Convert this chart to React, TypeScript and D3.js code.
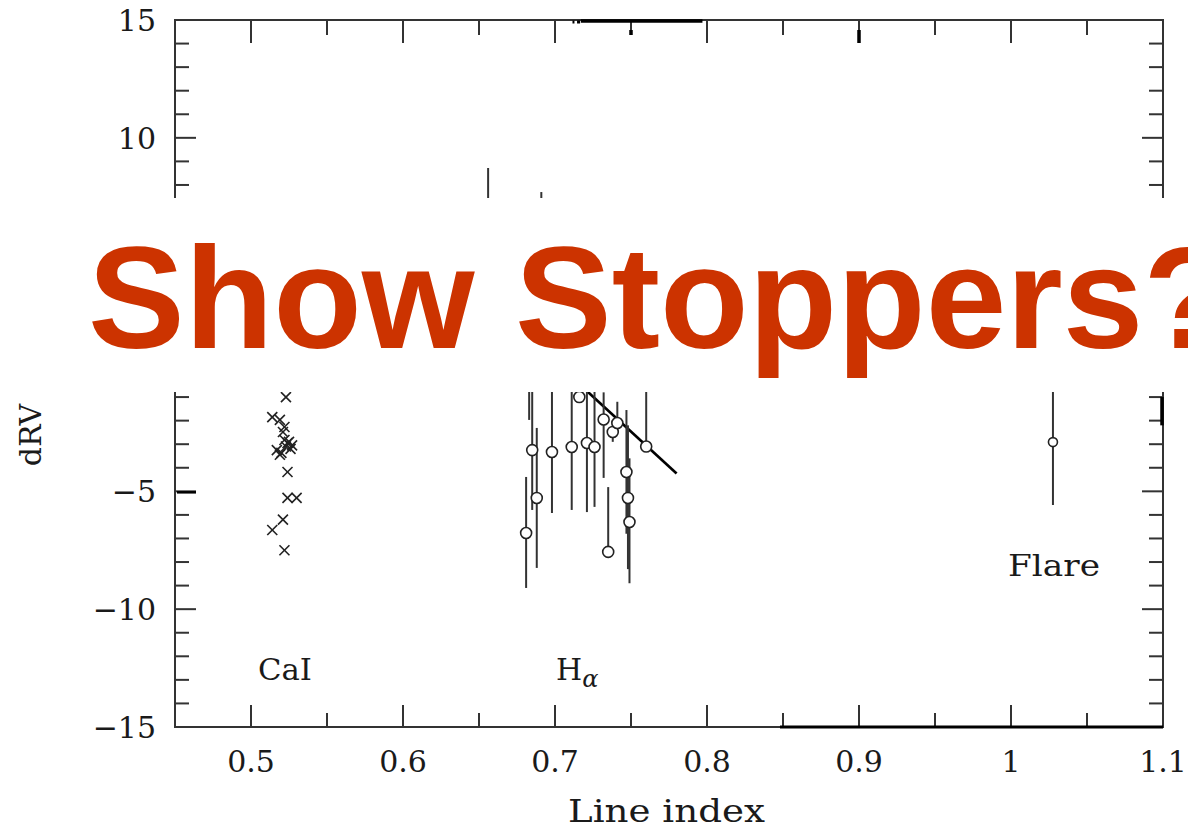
import React from "react";
import * as d3 from "d3";

// ---------- data ----------
const xDomain = [0.45, 1.1];
const yDomain = [-15, 15];
const xTickValues = [0.5, 0.6, 0.7, 0.8, 0.9, 1.0, 1.1];
const xTickLabels = ["0.5", "0.6", "0.7", "0.8", "0.9", "1", "1.1"];
const yTickValues = [15, 10, 5, 0, -5, -10, -15];
// labels for 5 and 0 are hidden under the title band in the reference
const yTickLabels = ["15", "10", "", "", "\u22125", "\u221210", "\u221215"];

// Ca I points (crosses)
const caX = [0.523, 0.514, 0.519, 0.522, 0.521, 0.522, 0.524, 0.523, 0.517, 0.520, 0.527, 0.525, 0.526, 0.519, 0.524, 0.524, 0.530, 0.521, 0.514, 0.522];
const caY = [-1.0, -1.85, -1.97, -2.27, -2.48, -2.82, -2.95, -3.1, -3.25, -3.37, -3.05, -2.9, -3.2, -3.45, -4.18, -5.28, -5.28, -6.2, -6.64, -7.5];

// H-alpha points (open circles) with error-bar ends
const haX = [0.681, 0.685, 0.688, 0.683, 0.698, 0.711, 0.716, 0.721, 0.726, 0.732, 0.738, 0.741, 0.735, 0.747, 0.748, 0.749, 0.760, 0.656, 0.691];
const haY = [-6.77, -3.25, -5.28, 0.3, -3.33, -3.12, -1.0, -2.95, -3.12, -1.95, -2.48, -2.1, -7.57, -4.18, -5.28, -6.3, -3.1, 4.5, 3.0];
const haHi = [-4.39, -0.7, -2.31, 2.0, -0.78, -0.78, 1.5, -0.78, -0.78, -0.8, -2.0, -1.2, -4.82, -1.55, -2.2, -3.6, -0.78, 8.72, 7.7];
const haLo = [-9.10, -5.79, -8.25, -1.97, -5.92, -5.79, -1.0, -5.88, -5.66, -4.43, -2.9, -2.5, -7.57, -6.8, -8.3, -8.9, -3.1, 0.5, -0.5];

// fitted line through H-alpha points
const fitX = [0.70, 0.78];
const fitY = [0.5, -4.24];

// Flare point
const flareX = [1.0276];
const flareY = [-2.91];
const flareHi = [-0.24];
const flareLo = [-5.58];

const W = 1188;
const H = 826;
const M = { left: 175, right: 1163, top: 20, bottom: 727 };

export default function App() {
  const x = d3.scaleLinear().domain(xDomain).range([M.left, M.right]);
  const y = d3.scaleLinear().domain(yDomain).range([M.bottom, M.top]);

  const xMinor = d3.range(0.45, 1.1001, 0.05).filter(
    (v) => Math.abs(v * 10 - Math.round(v * 10)) > 0.01
  );
  const yMinor = d3.range(-15, 15.001, 1).filter((v) => Math.abs(v % 5) > 0.01);

  const axisColor = "#333";
  const textColor = "#1a1a1a";
  const serif = "'DejaVu Serif', serif";
  const line = d3
    .line<number>()
    .x((_, i) => x(fitX[i]))
    .y((_, i) => y(fitY[i]));

  const cs = 5; // cross half-size

  return (
    <svg
      width={W}
      height={H}
      viewBox={`0 0 ${W} ${H}`}
      style={{ position: "absolute", left: 0, top: 0, background: "#fff" }}
    >
      <rect x={0} y={0} width={W} height={H} fill="#fff" />

      {/* frame */}
      <rect
        x={M.left}
        y={M.top}
        width={M.right - M.left}
        height={M.bottom - M.top}
        fill="none"
        stroke={axisColor}
        strokeWidth={2}
      />

      {/* x ticks, major */}
      {xTickValues.map((v, i) => (
        <g key={"xt" + i}>
          <line x1={x(v)} x2={x(v)} y1={M.bottom} y2={M.bottom - 22} stroke={axisColor} strokeWidth={2} />
          <line x1={x(v)} x2={x(v)} y1={M.top} y2={M.top + 23} stroke={axisColor} strokeWidth={2} />
          <text
            x={x(v)}
            y={772}
            textAnchor="middle"
            fontFamily={serif}
            fontSize={30}
            fill={textColor}
          >
            {xTickLabels[i]}
          </text>
        </g>
      ))}
      {xMinor.map((v, i) => (
        <g key={"xm" + i}>
          <line x1={x(v)} x2={x(v)} y1={M.bottom} y2={M.bottom - 14} stroke={axisColor} strokeWidth={2} />
          <line x1={x(v)} x2={x(v)} y1={M.top} y2={M.top + 15} stroke={axisColor} strokeWidth={2} />
        </g>
      ))}

      {/* y ticks */}
      {yTickValues.map((v, i) => (
        <g key={"yt" + i}>
          <line x1={M.left} x2={M.left + 21} y1={y(v)} y2={y(v)} stroke={axisColor} strokeWidth={2} />
          <line x1={M.right} x2={M.right - 21} y1={y(v)} y2={y(v)} stroke={axisColor} strokeWidth={2} />
          {yTickLabels[i] ? (
            <text
              x={156}
              y={y(v) + 11}
              textAnchor="end"
              fontFamily={serif}
              fontSize={30}
              fill={textColor}
            >
              {yTickLabels[i]}
            </text>
          ) : null}
        </g>
      ))}
      {yMinor.map((v, i) => (
        <g key={"ym" + i}>
          <line x1={M.left} x2={M.left + 14} y1={y(v)} y2={y(v)} stroke={axisColor} strokeWidth={2} />
          <line x1={M.right} x2={M.right - 14} y1={y(v)} y2={y(v)} stroke={axisColor} strokeWidth={2} />
        </g>
      ))}

      {/* scan artifacts along the frame */}
      <line x1={x(0.717)} x2={x(0.797)} y1={M.top + 1} y2={M.top + 1} stroke="#000" strokeWidth={3.5} />
      <line x1={x(0.7115)} x2={x(0.7128)} y1={M.top + 2} y2={M.top + 2} stroke="#000" strokeWidth={3} />
      <line x1={x(0.7145)} x2={x(0.7165)} y1={M.top + 2} y2={M.top + 2} stroke="#000" strokeWidth={3} />
      <line x1={x(0.75)} x2={x(0.75)} y1={M.top + 10} y2={M.top + 15} stroke="#000" strokeWidth={3.5} />
      <line x1={x(0.9)} x2={x(0.9)} y1={M.top + 10} y2={M.top + 23} stroke="#000" strokeWidth={3.5} />
      <line x1={x(0.848)} x2={M.right} y1={M.bottom} y2={M.bottom} stroke="#000" strokeWidth={3} />
      <line x1={M.right - 1} x2={M.right - 1} y1={y(-1.0)} y2={y(-2.2)} stroke="#000" strokeWidth={3.5} />
      <line x1={M.left + 2} x2={M.left + 21} y1={y(-5) + 1} y2={y(-5) + 1} stroke="#000" strokeWidth={2.5} />

      {/* fitted line */}
      <path d={line(fitX) || ""} fill="none" stroke="#000" strokeWidth={2.6} />

      {/* H-alpha error bars and circles */}
      {haX.map((v, i) => (
        <line
          key={"hb" + i}
          x1={x(v)}
          x2={x(v)}
          y1={y(haHi[i])}
          y2={y(haLo[i])}
          stroke={axisColor}
          strokeWidth={2}
        />
      ))}
      {haX.map((v, i) => (
        <circle
          key={"hc" + i}
          cx={x(v)}
          cy={y(haY[i])}
          r={5.5}
          fill="#fff"
          stroke="#222"
          strokeWidth={1.6}
        />
      ))}

      {/* Ca I crosses */}
      {caX.map((v, i) => (
        <g key={"ca" + i} stroke="#222" strokeWidth={1.6}>
          <line x1={x(v) - cs} x2={x(v) + cs} y1={y(caY[i]) - cs} y2={y(caY[i]) + cs} />
          <line x1={x(v) - cs} x2={x(v) + cs} y1={y(caY[i]) + cs} y2={y(caY[i]) - cs} />
        </g>
      ))}

      {/* Flare */}
      {flareX.map((v, i) => (
        <g key={"fl" + i}>
          <line x1={x(v)} x2={x(v)} y1={y(flareHi[i])} y2={y(flareLo[i])} stroke={axisColor} strokeWidth={2} />
          <circle cx={x(v)} cy={y(flareY[i])} r={4.5} fill="#fff" stroke="#222" strokeWidth={1.6} />
        </g>
      ))}

      {/* annotations */}
      <text x={258} y={680} fontFamily={serif} fontSize={30} fill={textColor} textLength={54} lengthAdjust="spacingAndGlyphs">
        CaI
      </text>
      <text x={556} y={680} fontFamily={serif} fontSize={30} fill={textColor}>
        H
        <tspan dy={7} fontSize={24} fontStyle="italic">
          {"\u03b1"}
        </tspan>
      </text>
      <text x={1008} y={576} fontFamily={serif} fontSize={30} fill={textColor} textLength={92} lengthAdjust="spacingAndGlyphs">
        Flare
      </text>

      {/* axis titles */}
      <text x={568} y={822} fontFamily={serif} fontSize={32} fill={textColor} textLength={197} lengthAdjust="spacingAndGlyphs">
        Line index
      </text>
      <text
        transform={`translate(41, 435) rotate(-90)`}
        textAnchor="middle"
        fontFamily={serif}
        fontSize={30}
        fill={textColor}
      >
        dRV
      </text>

      {/* overlay band with title */}
      <rect x={0} y={198} width={W} height={194} fill="#fff" />
      <text
        x={88}
        y={348}
        fontFamily="'Liberation Sans', Arial, sans-serif"
        fontWeight="bold"
        fontSize={145}
        fill="#CC3300"
      >
        Show Stoppers?
      </text>
    </svg>
  );
}
